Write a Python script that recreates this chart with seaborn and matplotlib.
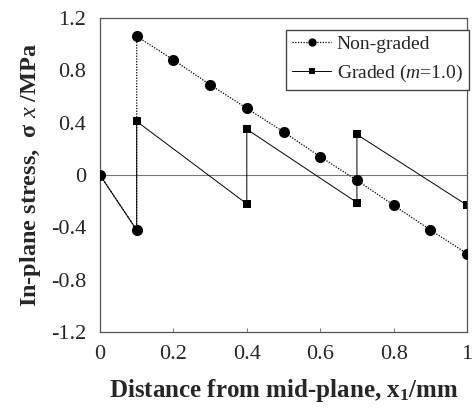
import pandas as pd
import seaborn as sns
import matplotlib
matplotlib.use('Agg')
import matplotlib.pyplot as plt

# values
x_nongraded = [0, 0.1, 0.1, 0.2, 0.3, 0.4, 0.5, 0.6, 0.7, 0.8, 0.9, 1.0]
y_nongraded = [0, -0.42, 1.06, 0.88, 0.69, 0.51, 0.33, 0.14, -0.04, -0.23,
               -0.42, -0.60]
x_graded = [0, 0.1, 0.1, 0.4, 0.4, 0.7, 0.7, 1.0]
y_graded = [0, -0.42, 0.41, -0.22, 0.35, -0.21, 0.31, -0.23]
labels = ['Non-graded', 'Graded ($m$=1.0)']
x_ticks = [0, 0.2, 0.4, 0.6, 0.8, 1]
x_ticklabels = ['0', '0.2', '0.4', '0.6', '0.8', '1']
y_ticks = [-1.2, -0.8, -0.4, 0, 0.4, 0.8, 1.2]
y_ticklabels = ['-1.2', '-0.8', '-0.4', '0', '0.4', '0.8', '1.2']

sns.set_style('white')
plt.rcParams['font.family'] = ['Liberation Serif', 'DejaVu Serif']
plt.rcParams['mathtext.fontset'] = 'custom'
plt.rcParams['mathtext.rm'] = 'Liberation Serif'
plt.rcParams['mathtext.it'] = 'Liberation Serif:italic'
plt.rcParams['mathtext.bf'] = 'Liberation Serif:bold'


def build_frame():
    """Long form table with both curves, in drawing order."""
    graded = pd.DataFrame({'x': x_graded, 'y': y_graded,
                           'series': labels[1]})
    nongraded = pd.DataFrame({'x': x_nongraded, 'y': y_nongraded,
                              'series': labels[0]})
    return pd.concat([nongraded, graded], ignore_index=True)


def main():
    df = build_frame()
    fig = plt.figure(figsize=(4.73, 4.09), dpi=100)
    ax = fig.add_axes([0.2114, 0.188, 0.776, 0.768])

    ax.axhline(0, color='#777777', lw=0.8, zorder=1)

    sns.lineplot(data=df[df['series'] == labels[1]], x='x', y='y',
                 sort=False, estimator=None, color='black', lw=0.7,
                 marker='s', markersize=5.5, markeredgewidth=0,
                 ax=ax, label=labels[1], zorder=2)
    sns.lineplot(data=df[df['series'] == labels[0]], x='x', y='y',
                 sort=False, estimator=None, color='black', lw=0.9,
                 linestyle=(0, (1, 1.2)), marker='o', markersize=8,
                 markeredgewidth=0, ax=ax, label=labels[0], zorder=3)

    ax.set_xlim(0, 1)
    ax.set_ylim(-1.2, 1.2)
    ax.set_xticks(x_ticks)
    ax.set_xticklabels(x_ticklabels)
    ax.set_yticks(y_ticks)
    ax.set_yticklabels(y_ticklabels)
    ax.tick_params(axis='both', labelsize=16, direction='in', length=3,
                   width=0.6, color='#666666')
    ax.tick_params(axis='x', top=False, bottom=True, pad=9)
    ax.tick_params(axis='y', length=0, pad=10)
    for spine in ax.spines.values():
        spine.set_color('#555555')
        spine.set_linewidth(0.9)

    ax.set_xlabel(r'Distance from mid-plane, x$_{\mathbf{1}}$/mm',
                  fontsize=18, fontweight='bold', labelpad=10)
    ax.set_ylabel(r'In-plane stress,  σ $\mathit{x}$ /MPa',
                  fontsize=17.5, fontweight='bold', labelpad=6)

    handles, names = ax.get_legend_handles_labels()
    order = [names.index(labels[0]), names.index(labels[1])]
    leg = ax.legend([handles[i] for i in order], [names[i] for i in order],
                    loc='upper right', bbox_to_anchor=(1.015, 0.975),
                    fontsize=14, frameon=True, fancybox=False,
                    edgecolor='#444444', framealpha=1, borderpad=0.3,
                    handlelength=2.0, handletextpad=0.3, labelspacing=0.5,
                    borderaxespad=0.2, markerscale=0.75)
    leg.get_frame().set_linewidth(1.0)

    fig.savefig('out.png', dpi=100)


if __name__ == '__main__':
    main()
